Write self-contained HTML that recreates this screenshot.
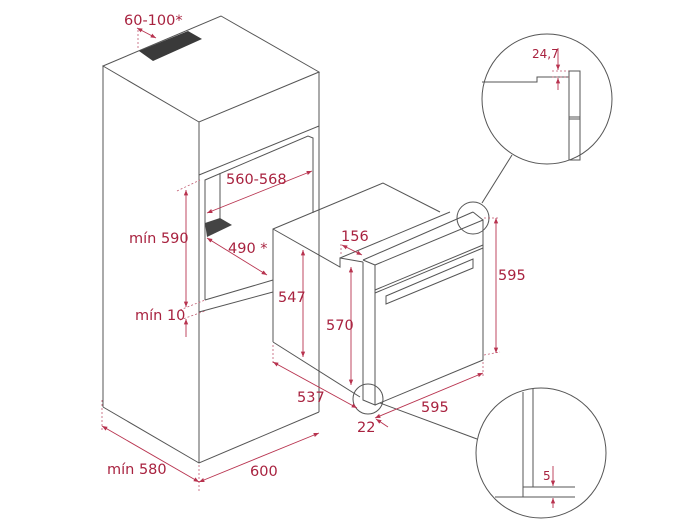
<!DOCTYPE html>
<html><head><meta charset="utf-8"><style>
html,body{margin:0;padding:0;background:#fff}
svg{display:block}
text{font-family:"DejaVu Sans","Liberation Sans",sans-serif;font-size:14.5px;fill:#a8223f}
.l{stroke:#555;stroke-width:1;fill:none}
.r{stroke:#b8334f;stroke-width:0.9;fill:none}
.d{stroke:#c05a70;stroke-width:0.8;fill:none;stroke-dasharray:2,2}
</style></head><body>
<svg width="700" height="525" viewBox="0 0 700 525" xmlns="http://www.w3.org/2000/svg">
<defs>
<marker id="a" viewBox="0 0 10 10" refX="10" refY="5" markerWidth="6" markerHeight="6" orient="auto-start-reverse"><path d="M0,1 L10,5 L0,9 z" fill="#b8334f"/></marker>
</defs>
<polygon class="l" points="103,66 221,16 319,72 199,122"/>
<line class="l" x1="103" y1="66" x2="103" y2="407"/>
<line class="l" x1="199" y1="122" x2="199" y2="463"/>
<line class="l" x1="319" y1="72" x2="319" y2="412"/>
<polyline class="l" points="103,407 199,463 319,412"/>
<polygon points="139,51 188,31 202,39 153,61" fill="#3a3a3a"/>
<line class="l" x1="199" y1="175" x2="319" y2="126"/>
<polyline class="l" points="205,300 205,180 308,136 313,138 313,213"/>
<line class="l" x1="220" y1="173" x2="220" y2="220"/>
<polygon points="205,223 220,218 232,225 207,237" fill="#444"/>
<line class="l" x1="205" y1="300" x2="273" y2="280"/>
<line class="l" x1="199" y1="312" x2="273" y2="292"/>
<polyline class="l" points="273,342 273,229 383,183 440,212"/>
<polyline class="l" points="273,229 340,267 340,258 363,262"/>
<line class="l" x1="340" y1="258" x2="450" y2="212"/>
<polyline class="l" points="363,262 363,400 375,405 375,265 363,260"/>
<line class="l" x1="363" y1="260" x2="473" y2="212"/>
<polyline class="l" points="375,265 483,220 483,360 375,405"/>
<line class="l" x1="473" y1="212" x2="483" y2="220"/>
<line class="l" x1="273" y1="342" x2="360" y2="397"/>
<line class="l" x1="375" y1="293" x2="483" y2="248"/>
<line class="l" x1="375" y1="290" x2="483" y2="245"/>
<polygon class="l" points="386,296 473,259 473,268 386,304"/>
<circle class="l" cx="473" cy="218" r="16"/>
<line class="l" x1="482" y1="203" x2="512" y2="155"/>
<circle class="l" cx="547" cy="99" r="65"/>
<polyline class="l" points="482,82 537,82 537,77 569,77"/>
<rect class="l" x="569" y="71" width="11" height="89"/>
<line class="l" x1="569" y1="117" x2="580" y2="117"/>
<line class="l" x1="569" y1="119" x2="580" y2="119"/>
<line class="d" x1="552" y1="71" x2="569" y2="71"/>
<line class="d" x1="552" y1="77" x2="569" y2="77"/>
<line class="r" x1="558" y1="48" x2="558" y2="70" marker-end="url(#a)"/>
<line class="r" x1="558" y1="90" x2="558" y2="78" marker-end="url(#a)"/>
<text x="532" y="58" style="font-size:12px">24,7</text>
<circle class="l" cx="368" cy="399" r="15"/>
<line class="l" x1="380" y1="403" x2="477" y2="439"/>
<circle class="l" cx="541" cy="453" r="65"/>
<polyline class="l" points="523,392 523,497"/>
<polyline class="l" points="533,389 533,487"/>
<line class="l" x1="523" y1="487" x2="575" y2="487"/>
<line class="l" x1="495" y1="497" x2="575" y2="497"/>
<line class="r" x1="553" y1="466" x2="553" y2="486" marker-end="url(#a)"/>
<line class="r" x1="553" y1="508" x2="553" y2="498" marker-end="url(#a)"/>
<text x="543" y="480" style="font-size:12px">5</text>
<text x="124" y="25">60-100*</text>
<line class="d" x1="138" y1="30" x2="138" y2="50"/>
<line class="r" x1="137" y1="28" x2="156" y2="38" marker-start="url(#a)" marker-end="url(#a)"/>
<text x="226" y="184">560-568</text>
<line class="r" x1="207" y1="213" x2="312" y2="171" marker-start="url(#a)" marker-end="url(#a)"/>
<text x="228" y="253">490 *</text>
<line class="r" x1="207" y1="238" x2="267" y2="275" marker-start="url(#a)" marker-end="url(#a)"/>
<line class="d" x1="177" y1="191" x2="200" y2="180"/>
<line class="r" x1="186" y1="190" x2="186" y2="307" marker-start="url(#a)" marker-end="url(#a)"/>
<text x="129" y="243">mín 590</text>
<line class="d" x1="180" y1="310" x2="205" y2="300"/>
<line class="d" x1="180" y1="320" x2="205" y2="311"/>
<line class="r" x1="186" y1="337" x2="186" y2="319" marker-end="url(#a)"/>
<text x="135" y="320">mín 10</text>
<line class="d" x1="102" y1="400" x2="102" y2="432"/>
<line class="d" x1="199" y1="465" x2="199" y2="492"/>
<line class="r" x1="102" y1="426" x2="199" y2="482" marker-start="url(#a)" marker-end="url(#a)"/>
<text x="107" y="474">mín 580</text>
<line class="r" x1="199" y1="482" x2="319" y2="433" marker-start="url(#a)" marker-end="url(#a)"/>
<text x="250" y="476">600</text>
<line class="d" x1="273" y1="345" x2="273" y2="365"/>
<line class="r" x1="273" y1="362" x2="357" y2="408" marker-start="url(#a)" marker-end="url(#a)"/>
<text x="297" y="402">537</text>
<line class="r" x1="303" y1="250" x2="303" y2="357" marker-start="url(#a)" marker-end="url(#a)"/>
<text x="278" y="302">547</text>
<line class="r" x1="351" y1="267" x2="351" y2="385" marker-start="url(#a)" marker-end="url(#a)"/>
<text x="326" y="330">570</text>
<line class="d" x1="341" y1="244" x2="341" y2="256"/>
<line class="r" x1="342" y1="245" x2="362" y2="255" marker-start="url(#a)" marker-end="url(#a)"/>
<text x="341" y="241">156</text>
<line class="d" x1="484" y1="218" x2="500" y2="218"/>
<line class="d" x1="484" y1="355" x2="500" y2="352"/>
<line class="r" x1="496" y1="218" x2="496" y2="353" marker-start="url(#a)" marker-end="url(#a)"/>
<text x="498" y="280">595</text>
<line class="d" x1="483" y1="362" x2="483" y2="376"/>
<line class="r" x1="375" y1="418" x2="483" y2="373" marker-start="url(#a)" marker-end="url(#a)"/>
<text x="421" y="412">595</text>
<line class="r" x1="388" y1="427" x2="376" y2="419" marker-end="url(#a)"/>
<text x="357" y="432">22</text>
</svg>
</body></html>
